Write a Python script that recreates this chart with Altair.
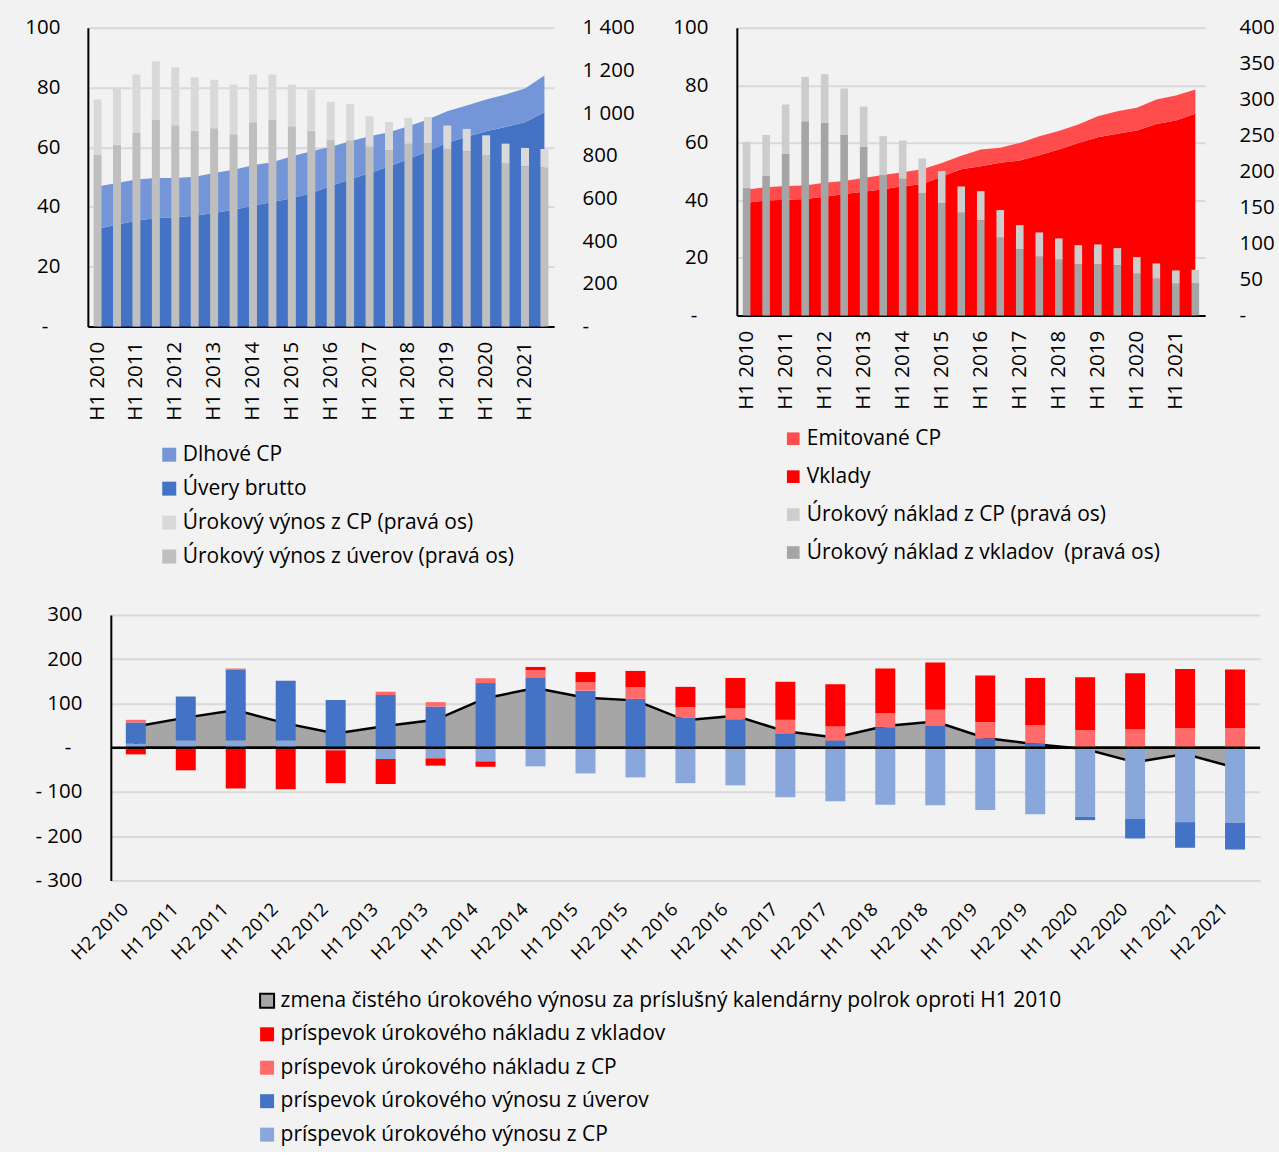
import altair as alt
import pandas as pd

# ---------------- data ----------------
periods = ["H1 2010", "H2 2010", "H1 2011", "H2 2011", "H1 2012", "H2 2012",
           "H1 2013", "H2 2013", "H1 2014", "H2 2014", "H1 2015", "H2 2015",
           "H1 2016", "H2 2016", "H1 2017", "H2 2017", "H1 2018", "H2 2018",
           "H1 2019", "H2 2019", "H1 2020", "H2 2020", "H1 2021", "H2 2021"]
h1_labels = ["H1 2010", "H1 2011", "H1 2012", "H1 2013", "H1 2014", "H1 2015",
             "H1 2016", "H1 2017", "H1 2018", "H1 2019", "H1 2020", "H1 2021"]
periods_b = periods[1:]

# top-left: assets (left axis, bn) and interest income (right axis, mil.)
loans_stock = [32.6, 34.1, 35.4, 36.3, 36.6, 37.1, 38.0, 39.1, 40.4, 41.7, 42.9, 44.7,
               47.0, 49.2, 51.4, 53.6, 56.1, 58.7, 61.5, 63.5, 65.4, 66.8, 68.4, 71.7]
debt_sec = [14.3, 13.9, 13.8, 13.4, 13.1, 13.0, 13.4, 13.4, 13.6, 13.3, 14.1, 14.0,
            13.2, 12.8, 12.3, 11.4, 10.9, 10.6, 10.6, 10.5, 10.6, 10.9, 11.3, 12.3]
inc_loans = [806, 852, 907, 970, 943, 918, 929, 901, 957, 968, 938, 918,
             876, 873, 842, 826, 856, 860, 829, 820, 801, 766, 751, 746]
inc_sec = [258, 266, 274, 273, 272, 250, 228, 233, 224, 213, 196, 192,
           177, 170, 143, 133, 122, 122, 113, 106, 95, 91, 86, 86]

# top-right: liabilities (left axis) and interest expense (right axis)
deposits_stock = [39.2, 40.0, 40.2, 40.5, 41.3, 42.2, 43.0, 43.9, 44.9, 45.6, 48.3, 50.8,
                  51.9, 53.1, 53.9, 55.7, 57.7, 60.0, 62.0, 63.2, 64.3, 66.6, 67.8, 70.1]
issued_sec = [4.6, 4.6, 4.8, 4.7, 4.8, 4.5, 4.8, 4.9, 4.9, 5.2, 4.7, 4.7,
              5.8, 5.2, 6.1, 6.6, 6.4, 6.4, 7.3, 7.8, 7.9, 8.5, 8.7, 8.5]
exp_dep = [177.5, 194.7, 224.8, 270.2, 267.9, 251.7, 234.5, 196.1, 190.0, 169.6, 155.7, 142.8,
           132.1, 108.0, 91.8, 81.6, 77.4, 70.9, 70.9, 69.5, 57.9, 51.0, 44.0, 45.0]
exp_sec = [64.0, 56.1, 68.6, 61.7, 67.7, 63.9, 56.1, 53.3, 53.3, 48.7, 45.0, 36.6,
           40.8, 38.5, 33.8, 33.8, 29.7, 26.9, 27.8, 24.1, 23.2, 21.3, 18.6, 18.5]

# bottom: contributions to change of net interest income vs H1 2010
b_net = [48, 68, 85, 55, 32, 49, 63, 112, 135, 113, 107, 62,
         72, 37, 23, 49, 59, 22, 8, -3, -33, -14, -45]
b_dep = [-15, -51, -92, -94, -74, -56.5, -16.5, -12, 7.5, 22.5, 37, 46,
         68, 86, 95.5, 101, 107, 105, 107.5, 119.5, 126, 134, 133]
b_sec_cost = [6, 0, 3, 0, 0, 7.5, 10, 11, 16, 19.5, 26, 23,
              25.5, 31, 31.5, 32, 36, 37, 40, 40, 42, 44, 44]
b_loans = [48, 99, 159.5, 135, 108, 119, 93, 146, 159, 129, 110.5, 68.5,
           64, 32, 16.5, 46, 49.6, 21, 10, -7.5, -44, -58, -60]
b_sec_inc = [9, 16.5, 16.5, 16.5, -6, -25.5, -24, -31, -42, -58, -67, -80,
             -85, -112, -121, -128.6, -130, -140.6, -150, -156, -161, -168, -170]

tl_names = ["Dlhové CP", "Úvery brutto",
            "Úrokový výnos z CP (pravá os)", "Úrokový výnos z úverov (pravá os)"]
tr_names = ["Emitované CP", "Vklady",
            "Úrokový náklad z CP (pravá os)", "Úrokový náklad z vkladov\u00a0 (pravá os)"]
b_names = ["zmena čistého úrokového výnosu za príslušný kalendárny polrok oproti H1 2010",
           "príspevok úrokového nákladu z vkladov",
           "príspevok úrokového nákladu z CP",
           "príspevok úrokového výnosu z úverov",
           "príspevok úrokového výnosu z CP"]

tl_colors = ["#7496d8", "#4472c4", "#d9d9d9", "#bfbfbf"]
tr_colors = ["#ff4d4d", "#ff0000", "#cdcdcd", "#a5a5a5"]
b_colors = ["#a6a6a6", "#ff0000", "#ff6b6b", "#4472c4", "#8aa7db"]
b_strokes = ["black", "transparent", "transparent", "transparent", "transparent"]

FONT = "Open Sans"
FS = 20.5      # axis labels
LFS = 21       # legend labels
GRID = "#d9d9d9"


# ---------------- helpers ----------------
def x_axis_top():
    return alt.Axis(values=h1_labels, labelAngle=270, labelPadding=15, ticks=False,
                    domain=True, domainColor="black", domainWidth=2, grid=False,
                    title=None, labelFontSize=FS)


def left_axis(values, extent, pad, **kw):
    return alt.Axis(values=values,
                    labelExpr="datum.value == 0 ? '-' : (datum.value < 0 ? '- ' + abs(datum.value) : datum.label)",
                    grid=True, gridColor=GRID, gridWidth=2, domain=True,
                    domainColor="black", domainWidth=2, ticks=False,
                    labelPadding={"condition": {"test": "datum.value === 0", "value": 40},
                                  "value": pad},
                    minExtent=extent, title=None, labelFontSize=FS, **kw)


def right_axis(values, extent, pad):
    return alt.Axis(orient="right", values=values,
                    labelExpr="datum.value == 0 ? '-' : replace(format(datum.value, ','), ',', ' ')",
                    grid=False, domain=False, ticks=False, labelPadding=pad,
                    minExtent=extent, title=None, labelFontSize=FS)


def top_panel(names, colors, stock_a, stock_b, flow_a, flow_b, left_vals, right_vals,
              right_max, width, height, lx, ly, row_pad, sym, band, lext, rext, lpad, rpad):
    area_df = pd.DataFrame({
        "period": periods * 2,
        "series": [names[1]] * len(periods) + [names[0]] * len(periods),
        "value": stock_a + stock_b,
        "ord": [0] * len(periods) + [1] * len(periods),
    })
    bar_df = pd.DataFrame({
        "period": periods * 2,
        "series": [names[3]] * len(periods) + [names[2]] * len(periods),
        "value": flow_a + flow_b,
        "ord": [0] * len(periods) + [1] * len(periods),
    })
    cscale = alt.Scale(domain=names, range=colors)
    legend = alt.Legend(orient="none", legendX=lx, legendY=ly, title=None,
                        symbolType="square", symbolSize=sym, symbolStrokeWidth=0,
                        rowPadding=row_pad, labelOffset=3, labelFontSize=LFS,
                        padding=0, labelLimit=1000)
    xscale = alt.Scale(domain=periods, paddingInner=0, paddingOuter=0)
    area = alt.Chart(area_df).mark_area(opacity=1).encode(
        x=alt.X("period:N", scale=xscale, bandPosition=0.5, axis=x_axis_top()),
        y=alt.Y("value:Q", stack="zero", scale=alt.Scale(domain=[0, 100], nice=False),
                axis=left_axis(left_vals, lext, lpad)),
        color=alt.Color("series:N", scale=cscale, legend=legend),
        order=alt.Order("ord:Q"),
    )
    bars = alt.Chart(bar_df).mark_bar(width=alt.RelativeBandSize(band)).encode(
        x=alt.X("period:N", scale=xscale, axis=x_axis_top()),
        y=alt.Y("value:Q", stack="zero", scale=alt.Scale(domain=[0, right_max], nice=False),
                axis=right_axis(right_vals, rext, rpad)),
        color=alt.Color("series:N", scale=cscale, legend=legend),
        order=alt.Order("ord:Q"),
    )
    return alt.layer(area, bars).resolve_scale(y="independent").properties(
        width=width, height=height)


tl = top_panel(tl_names, tl_colors, loans_stock, debt_sec, inc_loans, inc_sec,
               [0, 20, 40, 60, 80, 100], [0, 200, 400, 600, 800, 1000, 1200, 1400], 1400,
               467, 299, 71, 417, 12, 196, 0.41, 78, 80, 28, 28)
tr = top_panel(tr_names, tr_colors, deposits_stock, issued_sec, exp_dep, exp_sec,
               [0, 20, 40, 60, 80, 100], [0, 50, 100, 150, 200, 250, 300, 350, 400], 400,
               469, 288, 46, 401, 16, 160, 0.39, 82, 69, 29, 34)

# ---------------- bottom panel ----------------
n = len(periods_b)
bar_b = pd.DataFrame({
    "period": periods_b * 4,
    "series": [b_names[4]] * n + [b_names[3]] * n + [b_names[2]] * n + [b_names[1]] * n,
    "value": b_sec_inc + b_loans + b_sec_cost + b_dep,
    "ord": [0] * n + [1] * n + [2] * n + [3] * n,
})
net_b = pd.DataFrame({"period": periods_b, "series": [b_names[0]] * n, "value": b_net})
zero_b = pd.DataFrame({"z": [0], "start": [periods_b[0]], "end": [periods_b[-1]]})

B_W = 1174          # plot group width (axis line sits 23 px inside it)
B_IN = 23
bscale = alt.Scale(domain=b_names, range=b_colors)
bsscale = alt.Scale(domain=b_names, range=b_strokes)
bxscale = alt.Scale(domain=periods_b, paddingInner=0, paddingOuter=0, range=[B_IN, B_W])
bx_axis = alt.Axis(labelAngle=315, labelPadding=19, labelOffset=-17, ticks=False,
                   domain=False, grid=False, title=None, labelFontSize=18.5)
by_axis = left_axis([-300, -200, -100, 0, 100, 200, 300], 30, 29, offset=-B_IN)
byscale = alt.Scale(domain=[-300, 300], nice=False)
b_legend = alt.Legend(orient="none", legendX=146 + B_IN, legendY=376, title=None,
                      symbolType="square", symbolSize=196, symbolStrokeWidth=2,
                      rowPadding=10.5, labelOffset=3,
                      labelFontSize=LFS, padding=0, labelLimit=1200)

b_area = alt.Chart(net_b).mark_area(opacity=1, strokeWidth=2.5).encode(
    x=alt.X("period:N", scale=bxscale, bandPosition=0.5, axis=bx_axis),
    y=alt.Y("value:Q", stack=None, scale=byscale, axis=by_axis),
    color=alt.Color("series:N", scale=bscale, legend=b_legend),
    stroke=alt.Stroke("series:N", scale=bsscale, legend=b_legend),
)
b_bars = alt.Chart(bar_b).mark_bar(width=alt.RelativeBandSize(0.4), strokeWidth=0).encode(
    x=alt.X("period:N", scale=bxscale, axis=bx_axis),
    y=alt.Y("value:Q", stack="zero", scale=byscale, axis=by_axis),
    color=alt.Color("series:N", scale=bscale, legend=b_legend),
    stroke=alt.Stroke("series:N", scale=bsscale, legend=b_legend),
    order=alt.Order("ord:Q"),
)
b_zero = alt.Chart(zero_b).mark_rule(color="black", strokeWidth=2.5).encode(
    x=alt.X("start:N", scale=bxscale, bandPosition=0, axis=bx_axis),
    x2=alt.X2("end:N", bandPosition=1),
    y=alt.Y("z:Q", scale=byscale, axis=by_axis),
)
bottom = alt.layer(b_area, b_bars, b_zero).properties(width=B_W, height=266)

top_row = alt.concat(tl, tr, columns=2, spacing=20, align="none").resolve_scale(
    color="independent")
chart = alt.concat(
    top_row, bottom, columns=1, spacing=38, align="none",
).resolve_scale(
    color="independent", stroke="independent",
).properties(
    padding={"left": 10, "top": 17, "right": 4, "bottom": 5},
    background="#f2f2f2",
).configure(
    font=FONT,
).configure_axis(
    labelFont=FONT, labelColor="black",
).configure_legend(
    labelFont=FONT, labelColor="black",
).configure_view(
    stroke=None,
)

chart.save("out.html", embed_options={"renderer": "svg", "actions": False})
